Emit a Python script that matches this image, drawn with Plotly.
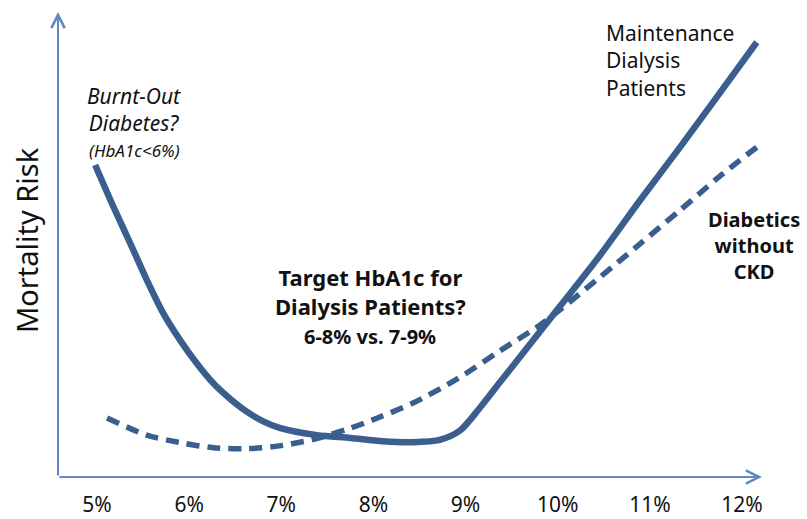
import plotly.graph_objects as go

# HbA1c (%) positions and relative mortality risk
dialysis_x = [4.98, 5.17, 5.36, 5.54, 5.72, 5.90, 6.08, 6.26, 6.44, 6.63, 6.81, 6.99, 7.39,
              7.75, 8.10, 8.43, 8.72, 8.94, 9.16, 9.37, 9.59, 10.02, 10.46, 10.89, 11.33,
              11.76, 12.16]
dialysis_y = [6.71, 5.85, 5.03, 4.24, 3.52, 2.95, 2.45, 2.02, 1.69, 1.40, 1.19, 1.05, 0.90,
              0.84, 0.77, 0.75, 0.80, 1.00, 1.50, 2.03, 2.58, 3.66, 4.77, 5.94, 7.10,
              8.26, 9.35]

nockd_x = [5.11, 5.54, 5.90, 6.26, 6.63, 7.02, 7.39, 7.75, 8.07, 8.43, 8.91, 9.37, 9.81,
           10.02, 10.46, 10.89, 11.33, 11.76, 12.23]
nockd_y = [1.27, 0.90, 0.74, 0.63, 0.61, 0.68, 0.83, 1.05, 1.29, 1.59, 2.11, 2.71, 3.27,
           3.59, 4.30, 5.01, 5.74, 6.47, 7.20]

tick_vals = [5, 6, 7, 8, 9, 10, 11, 12]
tick_text = ["5%", "6%", "7%", "8%", "9%", "10%", "11%", "12%"]

X_MIN, X_MAX = 4.577, 12.217
Y_MIN, Y_MAX = 0, 10

W, H = 807, 519
ML, MR, MT, MB = 58, 45, 12, 42

CURVE = "#3A5F8E"
AXIS = "#5F88C4"
FONT = "Noto Sans"
TXT = "#111111"

fig = go.Figure()
fig.add_trace(go.Scatter(x=dialysis_x, y=dialysis_y, mode="lines",
                         line=dict(color=CURVE, width=6.5, shape="spline", smoothing=0.8),
                         hoverinfo="skip", showlegend=False))
fig.add_trace(go.Scatter(x=nockd_x, y=nockd_y, mode="lines",
                         line=dict(color=CURVE, width=5.5, shape="spline", smoothing=0.8,
                                   dash="13px,8px"),
                         hoverinfo="skip", showlegend=False))

# axis arrows
fig.add_annotation(x=X_MAX, y=Y_MIN, ax=X_MIN, ay=Y_MIN, axref="x", ayref="y", xref="x", yref="y",
                   text="", showarrow=True, arrowhead=5, arrowsize=1.3, arrowwidth=2, arrowcolor=AXIS)
fig.add_annotation(x=X_MIN, y=Y_MAX, ax=X_MIN, ay=Y_MIN, axref="x", ayref="y", xref="x", yref="y",
                   text="", showarrow=True, arrowhead=5, arrowsize=1.3, arrowwidth=2, arrowcolor=AXIS)


def label(text, px, py, size, bold=False, italic=False, xanchor="center", angle=0, align="center"):
    lines = text.split("\n")
    if bold:
        lines = ["<b>" + s + "</b>" for s in lines]
    if italic:
        lines = ["<i>" + s + "</i>" for s in lines]
    fig.add_annotation(x=(px - ML) / (W - ML - MR), y=(H - MB - py) / (H - MB - MT),
                       xref="paper", yref="paper", text="<br>".join(lines),
                       showarrow=False, xanchor=xanchor, yanchor="middle", textangle=angle,
                       align=align, font=dict(family=FONT, size=size, color=TXT))


label("Mortality Risk", 26, 240, 29, angle=-90)

label("Burnt-Out\nDiabetes?", 134, 109, 21, italic=True)
label("(HbA1c<6%)", 134, 150, 17, italic=True)

label("Maintenance\nDialysis\nPatients", 604, 60, 21, xanchor="left", align="left")

label("Diabetics\nwithout\nCKD", 754, 246, 20, bold=True)

label("Target HbA1c for\nDialysis Patients?", 370, 291, 22, bold=True)
label("6-8% vs. 7-9%", 370, 336, 20, bold=True)

fig.update_layout(
    width=W, height=H,
    margin=dict(l=ML, r=MR, t=MT, b=MB, autoexpand=False),
    plot_bgcolor="white", paper_bgcolor="white",
    xaxis=dict(range=[X_MIN, X_MAX], tickvals=tick_vals, ticktext=tick_text, showgrid=False,
               zeroline=False, showline=False, ticks="outside", ticklen=9, automargin=False,
               tickcolor="rgba(0,0,0,0)", tickfont=dict(family=FONT, size=21, color=TXT)),
    yaxis=dict(range=[Y_MIN, Y_MAX], showgrid=False, zeroline=False, showline=False,
               showticklabels=False, automargin=False),
)

fig.write_html("out.html", config={"displayModeBar": False},
               post_script="document.body.style.margin='0px';document.body.style.overflow='hidden';")
